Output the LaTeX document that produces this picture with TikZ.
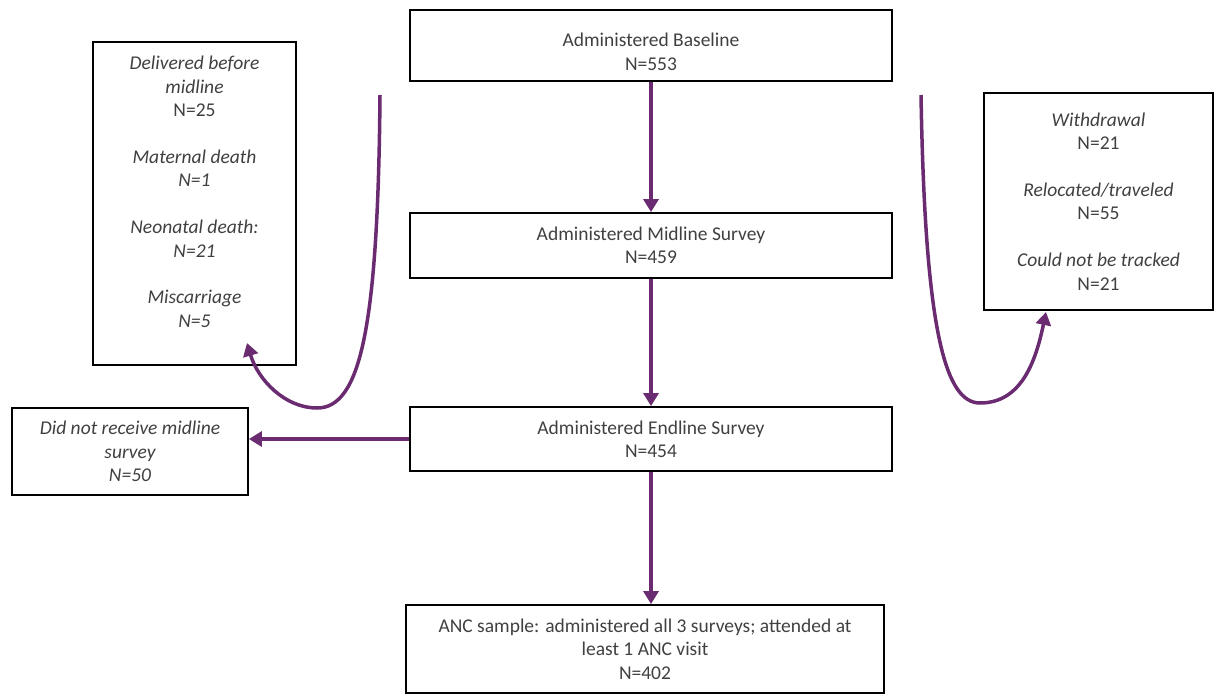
\documentclass[tikz,border=0pt]{standalone}
\usepackage{fontspec}
\setmainfont{Carlito}
\usetikzlibrary{arrows.meta}
\definecolor{flowpurple}{RGB}{107,43,112}
\definecolor{boxtext}{RGB}{64,64,64}

\begin{document}
\begin{tikzpicture}
      [x=1pt,y=-1pt,
       box/.style={draw, line width=1.8pt, text=boxtext, align=center, inner sep=0pt, minimum width=482pt,
         font=\fontsize{19.5}{23.4}\selectfont},
       txt/.style={text=boxtext, align=center, inner sep=0pt, font=\fontsize{19.5}{23.4}\selectfont},
       flow/.style={draw=flowpurple, line width=3.5pt, -{Triangle[width=15pt,length=13pt]}}]
    \useasboundingbox (0,0) rectangle (1214,695);

    \node[box, minimum height=71pt] (base) at (651,45.5) {\rule{0pt}{26pt}Administered Baseline\\N=553};
    \node[box, minimum height=65pt] (mid) at (651,245.5) {Administered Midline Survey\\N=459};
    \node[box, minimum height=64pt] (endl) at (651,439) {Administered Endline Survey\\N=454};
    \node[box, minimum width=478pt, minimum height=88pt] (anc) at (645,649)
      {ANC sample: administered all 3 surveys; attended at\\least 1 ANC visit\\N=402};
    \node[box, minimum width=236pt, minimum height=87pt] (nomid) at (130,451.5)
      {\itshape Did not receive midline\\\itshape survey\\\itshape N=50};
    \node[box, minimum width=203pt, minimum height=323pt] (lostA) at (194.5,203.5) {};
    \node[txt, anchor=north, yshift=-15pt] (lostAtext) at (lostA.north)
      {\textit{Delivered before}\\\textit{midline}\\N=25\\[23.4pt]
       \textit{Maternal death}\\\textit{N=1}\\[23.4pt]
       \textit{Neonatal death:}\\\textit{N=21}\\[23.4pt]
       \textit{Miscarriage}\\\textit{N=5}};
    \node[box, minimum width=229pt, minimum height=217pt] (lostB) at (1098.5,201.5)
      {\textit{Withdrawal}\\N=21\\[23.4pt]
       \textit{Relocated/traveled}\\N=55\\[23.4pt]
       \textit{Could not be tracked}\\N=21};

    \coordinate (leftTop) at (380,95);
    \coordinate (leftTip) at (247,343);
    \coordinate (rightTop) at (921,95);
    \coordinate (rightTip) at (1046,312);

    \foreach \from/\to in {base/mid, mid/endl}
      \draw[flow] (\from) -- (\to);
    \draw[flow] (endl.south) -- (endl.south |- anc.north);
    \draw[flow] (endl.west) -- (endl.west -| nomid.east);

    \draw[flow] (leftTop) .. controls (378,330) and (360,408) .. (317,408)
      .. controls (285,408) and (258,380) .. (leftTip);
    \draw[flow] (rightTop) .. controls (925,330) and (945,403) .. (980,403)
      .. controls (1022,403) and (1036,360) .. (rightTip);
  \end{tikzpicture}
\end{document}
